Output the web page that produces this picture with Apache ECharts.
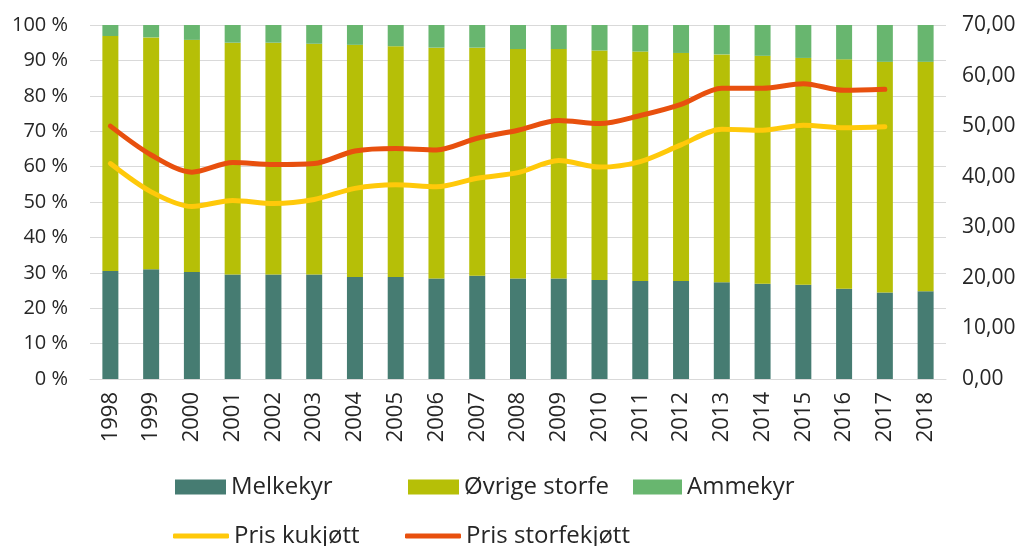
<!DOCTYPE html>
<html>
<head>
<meta charset="utf-8">
<script src="https://cdn.jsdelivr.net/npm/echarts@6/dist/echarts.min.js"></script>
<style>
html,body{margin:0;padding:0;background:#fff;}
#chart{width:1024px;height:546px;}
</style>
</head>
<body>
<div id="chart"></div>
<script>
var years = ['1998','1999','2000','2001','2002','2003','2004','2005','2006','2007','2008','2009','2010','2011','2012','2013','2014','2015','2016','2017','2018'];
// andel i prosent
var melkekyr = [30.5,31.0,30.2,29.5,29.5,29.5,28.8,28.8,28.4,29.2,28.4,28.4,28.0,27.7,27.7,27.3,26.9,26.6,25.5,24.4,24.8];
var ovrige   = [66.4,65.5,65.6,65.5,65.5,65.2,65.6,65.2,65.2,64.4,64.8,64.8,64.8,64.8,64.4,64.4,64.4,64.1,64.8,65.2,64.8];
var ammekyr  = [3.1,3.5,4.2,5.0,5.0,5.3,5.6,6.0,6.4,6.4,6.8,6.8,7.2,7.5,7.9,8.3,8.7,9.3,9.7,10.4,10.4];
// pris kr/kg (høyre akse)
var prisKu     = [42.6,37.0,34.1,35.3,34.7,35.5,37.7,38.4,38.0,39.7,40.8,43.2,41.9,43.0,46.3,49.4,49.2,50.2,49.7,49.9,null];
var prisStorfe = [50.0,44.3,40.9,42.8,42.4,42.6,45.1,45.6,45.3,47.6,49.2,51.1,50.5,52.1,54.3,57.5,57.5,58.4,57.1,57.3,null];

var font = "'Open Sans', 'Noto Sans', sans-serif";
var txt = '#262626';

function leg(name, left, top, icon, w, h){
	return {
		data:[name], left:left, top:top, icon:icon,
		itemWidth:w, itemHeight:h, itemGap:0, padding:0,
		textStyle:{fontFamily:font, fontSize:24, color:txt, padding:[0,0,0,0]}
	};
}

var myChart = echarts.init(document.getElementById('chart'));
var option = {
	animation:false,
	grid:{left:90, right:78, top:25, bottom:167},
	legend:[
		leg('Melkekyr', 175, 475, 'rect', 51, 15),
		leg('Øvrige storfe', 408, 475, 'rect', 51, 15),
		leg('Ammekyr', 633, 475, 'rect', 49, 15),
		leg('Pris kukjøtt', 173, 524, 'roundRect', 56, 5),
		leg('Pris storfekjøtt', 405, 524, 'roundRect', 56, 5)
	],
	xAxis:{
		type:'category',
		data:years,
		axisTick:{show:false},
		axisLine:{lineStyle:{color:'#d9d9d9', width:1}},
		axisLabel:{rotate:90, fontFamily:font, fontSize:22, color:txt, margin:13}
	},
	yAxis:[
		{
			type:'value', min:0, max:100, interval:10,
			axisLabel:{fontFamily:font, fontSize:20, color:txt, margin:22,
				formatter:function(v){return v+' %';}},
			splitLine:{lineStyle:{color:'#d9d9d9', width:1}},
			axisLine:{show:false}, axisTick:{show:false}
		},
		{
			type:'value', min:0, max:70, interval:10,
			axisLabel:{fontFamily:font, fontSize:21, color:txt, margin:16,
				formatter:function(v){return v.toFixed(2).replace('.',',');}},
			splitLine:{show:false},
			axisLine:{show:false}, axisTick:{show:false}
		}
	],
	series:[
		{name:'Melkekyr', type:'bar', stack:'andel', barWidth:16, itemStyle:{color:'#467c72'}, data:melkekyr},
		{name:'Øvrige storfe', type:'bar', stack:'andel', barWidth:16, itemStyle:{color:'#b6bf07'}, data:ovrige},
		{name:'Ammekyr', type:'bar', stack:'andel', barWidth:16, itemStyle:{color:'#68b66f'}, data:ammekyr},
		{name:'Pris kukjøtt', type:'line', yAxisIndex:1, smooth:0.3, symbol:'none',
			lineStyle:{color:'#ffc90a', width:5, cap:'round'}, itemStyle:{color:'#ffc90a'}, data:prisKu},
		{name:'Pris storfekjøtt', type:'line', yAxisIndex:1, smooth:0.3, symbol:'none',
			lineStyle:{color:'#e8500e', width:5, cap:'round'}, itemStyle:{color:'#e8500e'}, data:prisStorfe}
	]
};
myChart.setOption(option);
</script>
</body>
</html>
